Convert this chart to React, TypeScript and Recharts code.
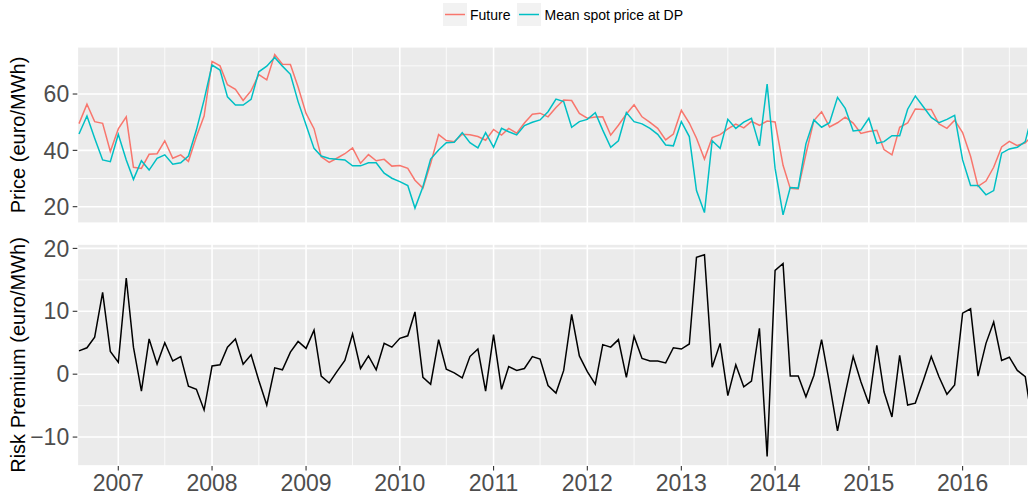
import { LineChart, Line, XAxis, YAxis, CartesianGrid, Legend } from "recharts";

const FONT = '"Liberation Sans", Arial, Helvetica, sans-serif';

// monthly observations, Aug 2006 .. Oct 2016
const firstYear = 2006;
const firstMonth = 7; // August, 0-based

const spotPrice = [
  45.8, 52.2, 44.3, 36.6, 36.0,
  45.7, 36.6, 29.7, 36.3, 33.0, 37.2, 38.4, 35.1, 35.6, 38.0, 47.2, 57.9,
  70.3, 68.5, 59.0, 56.1, 56.1, 58.1, 67.9, 69.9, 73.0, 69.9, 67.0, 57.3,
  49.0, 40.7, 38.0, 37.1, 36.8, 36.6, 34.5, 34.5, 35.6, 35.6, 31.9, 30.1,
  28.9, 27.5, 19.5, 27.1, 36.9, 40.1, 42.7, 42.9, 46.3, 42.7, 40.9, 46.3,
  41.1, 47.8, 46.6, 45.5, 48.8, 50.0, 50.8, 53.7, 58.2, 57.3, 48.2, 50.2,
  51.0, 53.4, 47.2, 41.1, 43.4, 53.4, 50.2, 49.4, 47.8, 45.7, 41.9, 41.6,
  50.2, 44.9, 25.7, 17.9, 43.4, 40.7, 51.0, 47.8, 50.0, 51.4, 41.6, 63.5,
  33.6, 17.1, 26.8, 26.6, 42.3, 50.8, 48.2, 49.8, 58.8, 54.9, 46.9, 47.2,
  51.4, 42.5, 43.1, 45.2, 45.2, 54.6, 59.3, 55.5, 51.7, 49.8, 51.0, 52.4,
  36.6, 27.5, 27.5, 24.2, 25.7, 39.0, 40.5, 41.1, 43.1, 54.0,
];

const futurePrice = [
  49.5, 56.4, 50.2, 49.6, 39.6,
  47.6, 51.9, 34.0, 33.6, 38.6, 38.8, 43.4, 37.2, 38.4, 36.1, 44.8, 52.2,
  71.6, 70.0, 63.3, 61.7, 57.7, 61.2, 66.9, 65.0, 74.0, 70.6, 70.5, 62.5,
  53.1, 47.7, 37.7, 35.7, 37.2, 38.8, 40.9, 35.4, 38.5, 36.3, 36.8, 34.4,
  34.6, 33.6, 29.4, 26.6, 35.3, 45.6, 43.5, 43.1, 45.7, 45.5, 44.9, 43.6,
  47.4, 45.4, 47.8, 46.1, 49.7, 52.8, 53.2, 51.9, 55.2, 57.9, 57.7, 53.1,
  51.4, 51.8, 51.9, 45.4, 48.9, 52.9, 56.2, 51.9, 49.9, 47.8, 43.7, 45.8,
  54.2, 49.7, 44.3, 36.9, 44.5, 45.6, 47.6, 49.3, 48.0, 50.3, 48.9, 50.4,
  50.1, 34.7, 26.5, 26.3, 38.7, 50.6, 53.7, 48.3, 49.8, 51.8, 49.7, 46.0,
  46.7, 47.1, 40.3, 38.4, 48.2, 49.7, 54.7, 54.5, 54.5, 49.4, 47.8, 50.7,
  46.3, 37.9, 27.2, 29.1, 34.0, 41.2, 43.2, 41.7, 42.7, 45.5,
];

const riskPremium = [
  3.7, 4.2, 5.9, 13.0, 3.6,
  1.9, 15.3, 4.3, -2.7, 5.6, 1.6, 5.0, 2.1, 2.8, -1.9, -2.4, -5.7,
  1.3, 1.5, 4.3, 5.6, 1.6, 3.1, -1.0, -4.9, 1.0, 0.7, 3.5, 5.2,
  4.1, 7.0, -0.3, -1.4, 0.4, 2.2, 6.4, 0.9, 2.9, 0.7, 4.9, 4.3,
  5.7, 6.1, 9.9, -0.5, -1.6, 5.5, 0.8, 0.2, -0.6, 2.8, 4.0, -2.7,
  6.3, -2.4, 1.2, 0.6, 0.9, 2.8, 2.4, -1.8, -3.0, 0.6, 9.5, 2.9,
  0.4, -1.6, 4.7, 4.3, 5.5, -0.5, 6.0, 2.5, 2.1, 2.1, 1.8, 4.2,
  4.0, 4.8, 18.6, 19.0, 1.1, 4.9, -3.4, 1.5, -2.0, -1.1, 7.3, -13.1,
  16.5, 17.6, -0.3, -0.3, -3.6, -0.2, 5.5, -1.5, -9.0, -3.1, 2.8, -1.2,
  -4.7, 4.6, -2.8, -6.8, 3.0, -4.9, -4.6, -1.0, 2.8, -0.4, -3.2, -1.7,
  9.7, 10.4, -0.3, 4.9, 8.3, 2.2, 2.7, 0.6, -0.4, -8.5,
];

const yearTicks = [2007, 2008, 2009, 2010, 2011, 2012, 2013, 2014, 2015, 2016];
const priceTicks = [20, 40, 60];
const priceMinorTicks = [30, 50, 70];
const premiumTicks = [-10, 0, 10, 20];
const premiumMinorTicks = [-5, 5, 15];

// x axis runs in days since 2007-01-01
const DAY = 86400000;
const ORIGIN = Date.UTC(2007, 0, 1);
const dayOf = (y: number, m: number) => (Date.UTC(y, m, 1) - ORIGIN) / DAY;

const data = spotPrice.map((spot, i) => {
  const m = firstMonth + i;
  return {
    t: dayOf(firstYear + Math.floor(m / 12), m % 12),
    future: futurePrice[i],
    spot,
    premium: riskPremium[i],
  };
});

const majorX = yearTicks.map((y) => dayOf(y, 0));
const minorX = yearTicks.map((y) => dayOf(y, 6));
const xDomain = [-159.6, 3541.6];

const yearLabel = (d: number) => String(new Date(ORIGIN + d * DAY).getUTCFullYear());
const signed = (v: number) => (v < 0 ? `\u2212${Math.abs(v)}` : String(v));

const tickStyle = { fill: "#4d4d4d", fontSize: 23, fontFamily: FONT };
const tickLine = { stroke: "#333333", strokeWidth: 1.1 };

function YTitle({ viewBox, text }: any) {
  const vb = viewBox || { y: 0, height: 0 };
  const cy = vb.y + vb.height / 2;
  return (
    <text
      x={25}
      y={cy}
      transform={`rotate(-90 25 ${cy})`}
      textAnchor="middle"
      fontSize={20}
      fontFamily={FONT}
      fill="#000000"
    >
      {text}
    </text>
  );
}

function LegendBox({ payload }: any) {
  return (
    <div style={{ display: "flex", alignItems: "center", fontFamily: FONT, fontSize: 14, color: "#000" }}>
      {(payload || []).map((entry: any) => (
        <div key={entry.value} style={{ display: "flex", alignItems: "center", marginRight: 7 }}>
          <svg width={24} height={23}>
            <rect x={0} y={0} width={24} height={23} fill="#f2f2f2" />
            <line x1={2} x2={22} y1={11.5} y2={11.5} stroke={entry.color} strokeWidth={1.5} />
          </svg>
          <span style={{ marginLeft: 3 }}>{entry.value}</span>
        </div>
      ))}
    </div>
  );
}

export default function App() {
  return (
    <div style={{ position: "absolute", left: 0, top: 0, width: 1028, height: 500, background: "#ffffff", overflow: "hidden" }}>
      {/* price panel */}
      <LineChart width={1028} height={232} data={data} margin={{ top: 46.7, right: 0, bottom: 8.7, left: 0 }}>
        <XAxis xAxisId="minor" dataKey="t" type="number" domain={xDomain} ticks={minorX} allowDataOverflow hide />
        <XAxis xAxisId="major" dataKey="t" type="number" domain={xDomain} ticks={majorX} allowDataOverflow hide />
        <YAxis yAxisId="minor" type="number" domain={[14.1, 76.8]} ticks={priceMinorTicks} allowDataOverflow hide />
        <YAxis
          yAxisId="major"
          type="number"
          domain={[14.1, 76.8]}
          ticks={priceTicks}
          allowDataOverflow
          interval={0}
          width={77.3}
          tickSize={4.6}
          tickMargin={3.5}
          axisLine={false}
          tickLine={tickLine}
          tick={tickStyle}
          label={<YTitle text="Price (euro/MWh)" />}
        />
        <CartesianGrid xAxisId="minor" yAxisId="minor" fill="#ebebeb" stroke="#ffffff" strokeWidth={0.8} />
        <CartesianGrid xAxisId="major" yAxisId="major" stroke="#ffffff" strokeWidth={1.6} />
        <Legend
          layout="horizontal"
          verticalAlign="middle"
          align="center"
          wrapperStyle={{ top: 3, left: 443, width: 320, height: 23 }}
          content={<LegendBox />}
        />
        <Line
          xAxisId="major"
          yAxisId="major"
          type="linear"
          dataKey="future"
          name="Future"
          stroke="#F8766D"
          strokeWidth={1.5}
          dot={false}
          isAnimationActive={false}
        />
        <Line
          xAxisId="major"
          yAxisId="major"
          type="linear"
          dataKey="spot"
          name="Mean spot price at DP"
          stroke="#00BFC4"
          strokeWidth={1.5}
          dot={false}
          isAnimationActive={false}
        />
      </LineChart>

      {/* risk premium panel */}
      <LineChart width={1028} height={268} data={data} margin={{ top: 12, right: 0, bottom: 0, left: 0 }}>
        <XAxis xAxisId="minor" dataKey="t" type="number" domain={xDomain} ticks={minorX} allowDataOverflow hide />
        <XAxis
          xAxisId="major"
          dataKey="t"
          type="number"
          domain={xDomain}
          ticks={majorX}
          allowDataOverflow
          interval={0}
          height={34}
          tickSize={4.6}
          tickMargin={4.3}
          axisLine={false}
          tickLine={tickLine}
          tick={tickStyle}
          tickFormatter={yearLabel}
        />
        <YAxis yAxisId="minor" type="number" domain={[-14.6, 20.7]} ticks={premiumMinorTicks} allowDataOverflow hide />
        <YAxis
          yAxisId="major"
          type="number"
          domain={[-14.6, 20.7]}
          ticks={premiumTicks}
          allowDataOverflow
          interval={0}
          width={77.3}
          tickSize={4.6}
          tickMargin={3.5}
          axisLine={false}
          tickLine={tickLine}
          tick={tickStyle}
          tickFormatter={signed}
          label={<YTitle text="Risk Premium (euro/MWh)" />}
        />
        <CartesianGrid xAxisId="minor" yAxisId="minor" fill="#ebebeb" stroke="#ffffff" strokeWidth={0.8} />
        <CartesianGrid xAxisId="major" yAxisId="major" stroke="#ffffff" strokeWidth={1.6} />
        <Line
          xAxisId="major"
          yAxisId="major"
          type="linear"
          dataKey="premium"
          name="Risk Premium"
          stroke="#000000"
          strokeWidth={1.5}
          dot={false}
          isAnimationActive={false}
        />
      </LineChart>
    </div>
  );
}
